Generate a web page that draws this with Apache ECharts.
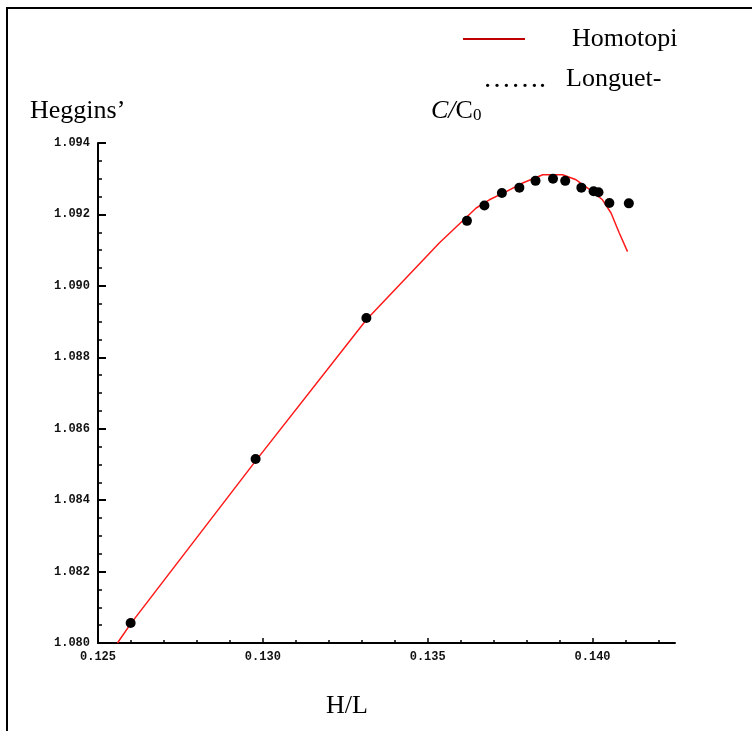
<!DOCTYPE html>
<html>
<head>
<meta charset="utf-8">
<script src="https://cdn.jsdelivr.net/npm/echarts@6/dist/echarts.min.js"></script>
<style>
  html, body { margin: 0; padding: 0; background: #fff; }
  #chart { width: 752px; height: 731px; }
</style>
</head>
<body>
<div id="chart"></div>
<script>
// Homotopi curve
const curveX = [0.12559, 0.12600, 0.12980, 0.13314, 0.13535, 0.13647, 0.13687, 0.13738, 0.13788, 0.13849, 0.13909, 0.13950, 0.14000, 0.14030, 0.14056, 0.14081, 0.14106];
const curveY = [1.08000, 1.08055, 1.08512, 1.08905, 1.09120, 1.09218, 1.09241, 1.09264, 1.09288, 1.09311, 1.09311, 1.09297, 1.09264, 1.09241, 1.09204, 1.09148, 1.09096];
// Longuet-Heggins' points
const pointX = [0.12599, 0.12978, 0.13314, 0.13619, 0.13672, 0.13725, 0.13778, 0.13827, 0.13880, 0.13917, 0.13966, 0.14003, 0.14018, 0.14051, 0.14110];
const pointY = [1.08056, 1.08515, 1.08910, 1.09182, 1.09225, 1.09260, 1.09275, 1.09294, 1.09300, 1.09294, 1.09275, 1.09265, 1.09262, 1.09232, 1.09231];
// axis ticks
const xMajorTicks = [0.125, 0.130, 0.135, 0.140];
const xMinorTicks = [0.126, 0.127, 0.128, 0.129, 0.131, 0.132, 0.133, 0.134, 0.136, 0.137, 0.138, 0.139, 0.141, 0.142];

(function() {
  let myChart = echarts.init(document.getElementById('chart'))
  const serif = '"Liberation Serif", "DejaVu Serif", serif'
  const tickFont = '"Liberation Mono", "DejaVu Sans Mono", monospace'

  let option = {
    backgroundColor: '#fff',
    animation: false,
    grid: {
      left: 98,
      top: 143,
      right: 77,
      bottom: 88
    },
    legend: {
      data: ['Homotopi'],
      left: 458,
      top: 21,
      icon: 'rect',
      itemWidth: 62,
      itemHeight: 2,
      itemStyle: { color: '#c00000' },
      textStyle: {
        fontFamily: serif,
        fontSize: 26,
        color: '#000',
        padding: [0, 0, 0, 42]
      }
    },
    xAxis: [
      {
        type: 'value',
        min: 0.125,
        max: 0.1425,
        position: 'bottom',
        axisLine: { onZero: false, lineStyle: { color: '#000', width: 2 } },
        axisTick: {
          inside: true,
          length: 5,
          customValues: xMajorTicks,
          lineStyle: { color: '#000', width: 1.5 }
        },
        axisLabel: {
          customValues: xMajorTicks,
          formatter: v => v.toFixed(3),
          margin: 8,
          color: '#111',
          fontFamily: tickFont,
          fontWeight: 'bold',
          fontSize: 12
        },
        splitLine: { show: false }
      },
      {
        type: 'value',
        min: 0.125,
        max: 0.1425,
        position: 'bottom',
        axisLine: { show: false, onZero: false },
        axisTick: {
          inside: true,
          length: 3,
          customValues: xMinorTicks,
          lineStyle: { color: '#000', width: 1.5 }
        },
        axisLabel: { show: false },
        splitLine: { show: false }
      }
    ],
    yAxis: {
      type: 'value',
      min: 1.080,
      max: 1.094,
      interval: 0.002,
      axisLine: { show: true, onZero: false, lineStyle: { color: '#000', width: 2 } },
      axisTick: {
        show: true,
        inside: true,
        length: 8,
        lineStyle: { color: '#000', width: 2 }
      },
      minorTick: {
        show: true,
        splitNumber: 4,
        length: 4,
        lineStyle: { color: '#000', width: 1.5 }
      },
      axisLabel: {
        formatter: v => v.toFixed(3),
        margin: 8,
        color: '#111',
        fontFamily: tickFont,
        fontWeight: 'bold',
        fontSize: 12
      },
      splitLine: { show: false }
    },
    series: [
      {
        name: 'Homotopi',
        type: 'line',
        xAxisIndex: 0,
        data: curveX.map((x, i) => [x, curveY[i]]),
        showSymbol: false,
        symbol: 'none',
        lineStyle: { color: '#ff1a1a', width: 1.5 },
        itemStyle: { color: '#c00000' },
        z: 2
      },
      {
        name: 'Longuet-Heggins’',
        type: 'scatter',
        xAxisIndex: 0,
        data: pointX.map((x, i) => [x, pointY[i]]),
        symbol: 'circle',
        symbolSize: 10,
        itemStyle: { color: '#000', opacity: 1 },
        z: 3
      }
    ],
    graphic: [
      // 外框
      {
        type: 'rect',
        shape: { x: 7, y: 8, width: 900, height: 900 },
        style: { fill: 'none', stroke: '#000', lineWidth: 2 },
        silent: true
      },
      {
        type: 'text',
        left: 483,
        top: 66,
        style: { text: '…….', font: '28px ' + serif, fill: '#000' }
      },
      {
        type: 'text',
        left: 566,
        top: 66,
        style: { text: 'Longuet-', font: '26px ' + serif, fill: '#000' }
      },
      {
        type: 'text',
        left: 30,
        top: 98,
        style: { text: 'Heggins’', font: '26px ' + serif, fill: '#000' }
      },
      {
        type: 'text',
        left: 431,
        top: 98,
        style: {
          text: '{i|C/}{n|C}{s|0}',
          rich: {
            i: { font: 'italic 26px ' + serif, fill: '#000' },
            n: { font: '26px ' + serif, fill: '#000' },
            s: { font: '17px ' + serif, fill: '#000', verticalAlign: 'bottom', padding: [8, 0, 0, 0] }
          }
        }
      },
      {
        type: 'text',
        left: 326,
        top: 693,
        style: { text: 'H/L', font: '26px ' + serif, fill: '#000' }
      }
    ]
  }
  myChart.setOption(option);
  window.addEventListener('resize', function() {
    myChart.resize()
  })
})();
</script>
</body>
</html>
